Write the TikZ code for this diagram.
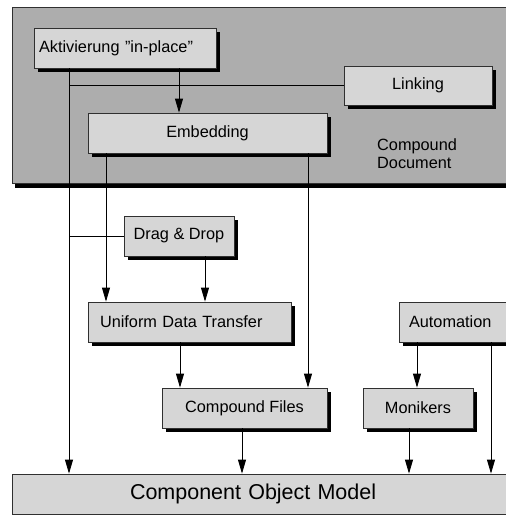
\documentclass[tikz,border=0pt]{standalone}
\usepackage{fontspec}
\setmainfont{Liberation Sans}
\usetikzlibrary{arrows.meta,shadows}
\definecolor{outerfill}{HTML}{ADADAD}
\definecolor{innerfill}{HTML}{D6D6D6}
\definecolor{edgecol}{HTML}{303030}
\tikzset{
  x=1pt, y=-1pt,
  every node/.style={font=\fontsize{16.3}{18}\selectfont},
  boxshade/.style={drop shadow={shadow xshift=4pt,shadow yshift=-4pt,fill=black,opacity=1}},
  itembox/.style={draw=edgecol, line width=0.8pt, fill=innerfill, rectangle, boxshade,
                  minimum height=40pt, inner sep=0pt},
  leftbox/.style={itembox, align=left},
  conn/.style={line width=0.8pt, draw=black},
  arr/.style={conn, -{Triangle[length=14pt,width=8pt]}}
}
\begin{document}
\begin{tikzpicture}
\useasboundingbox (0,0) rectangle (506,515);
\clip (0,0) rectangle (506,515);
% compound document frame
\node[draw=edgecol, line width=0.8pt, fill=outerfill, rectangle, inner sep=0pt,
      minimum width=518pt, minimum height=176pt,
      drop shadow={shadow xshift=3pt,shadow yshift=-5pt,fill=black,opacity=1}] (doc) at (271,95) {};
\node[anchor=north west, align=left, inner sep=0pt] (doclabel) at (377,138) {Compound\\Document};
% boxes
\node[leftbox, text width=172pt, inner xsep=5pt] (akt) at (125,48) {Aktivierung \char34 in-place\char34};
\node[itembox, minimum width=148pt, minimum height=39pt] (link) at (418,85.5) {Linking};
\node[itembox, minimum width=239pt] (emb) at (207.5,133) {Embedding};
\node[itembox, minimum width=110pt] (drag) at (179,236) {Drag \& Drop};
\node[leftbox, text width=179pt, inner xsep=12pt] (udt) at (189.5,322) {Uniform Data Transfer};
\node[leftbox, text width=96pt, inner xsep=10pt] (auto) at (457,322) {Automation};
\node[itembox, minimum width=165pt] (cf) at (244.5,408) {Compound Files};
\node[itembox, minimum width=110pt] (mon) at (418,408) {Monikers};
\node[draw=edgecol, line width=0.8pt, fill=innerfill, rectangle, minimum height=40pt,
      inner ysep=0pt, inner xsep=118pt, text width=272pt, align=left,
      font=\fontsize{21.5}{24}\selectfont] (com) at (266,494) {Component Object Model};
% connectors
\draw[arr] (69,0 |- akt.south) -- (69,0 |- com.north);
\draw[conn] (69,0 |- link.west) -- (link.west);
\draw[arr] (179,0 |- akt.south) -- (179,0 |- emb.north);
\draw[arr] (106,0 |- emb.south) -- (106,0 |- udt.north);
\draw[arr] (308,0 |- emb.south) -- (308,0 |- cf.north);
\draw[conn] (69,0 |- drag.west) -- (drag.west);
\draw[arr] (205,0 |- drag.south) -- (205,0 |- udt.north);
\draw[arr] (180,0 |- udt.south) -- (180,0 |- cf.north);
\draw[arr] (242,0 |- cf.south) -- (242,0 |- com.north);
\draw[arr] (417,0 |- auto.south) -- (417,0 |- mon.north);
\draw[arr] (491,0 |- auto.south) -- (491,0 |- com.north);
\draw[arr] (409,0 |- mon.south) -- (409,0 |- com.north);
\end{tikzpicture}
\end{document}
